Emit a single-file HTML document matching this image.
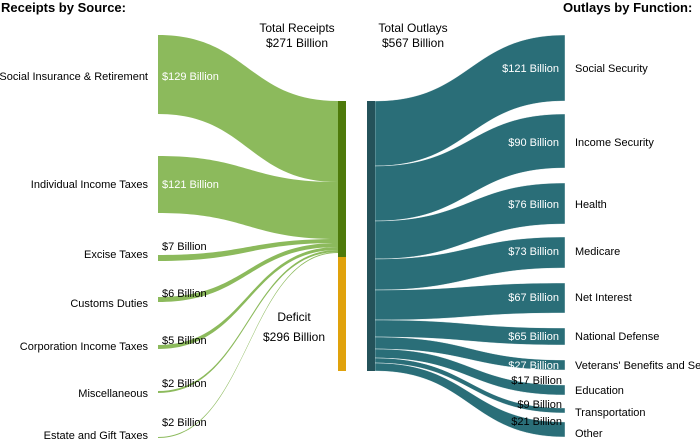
<!DOCTYPE html>
<html><head><meta charset="utf-8"><style>
body{margin:0;background:#fff;}
svg{display:block;font-family:"Liberation Sans",Arial,sans-serif;}
</style></head><body>
<svg width="700" height="444" viewBox="0 0 700 444" xmlns="http://www.w3.org/2000/svg">
<g fill="#8cba5c">
<path d="M158,35 C248,35 248,101 338,101 L338,182 C248,182 248,114 158,114 Z"/>
<path d="M158,156 C248,156 248,182 338,182 L338,239 C248,239 248,213 158,213 Z"/>
<path d="M158,255 C248,255 248,239 338,239 L338,243 C248,243 248,261 158,261 Z"/>
<path d="M158,297 C248,297 248,243 338,243 L338,247 C248,247 248,302 158,302 Z"/>
<path d="M158,345 C248,345 248,247 338,247 L338,250 C248,250 248,349 158,349 Z"/>
<path d="M158,391 C248,391 248,250 338,250 L338,252 C248,252 248,393 158,393 Z"/>
<path d="M158,437 C248,437 248,252 338,252 L338,253 C248,253 248,438 158,438 Z"/>
</g>
<rect x="338" y="101" width="8" height="156" fill="#4e7a0b"/>
<rect x="338" y="257" width="8" height="114" fill="#e0a20c"/>
<g fill="#2a6e78" stroke="#fff" stroke-width="0.4">
<path d="M375,101 C470,101 470,35 565,35 L565,101 C470,101 470,166 375,166 Z"/>
<path d="M375,166 C470,166 470,114 565,114 L565,168 C470,168 470,221 375,221 Z"/>
<path d="M375,221 C470,221 470,183 565,183 L565,224 C470,224 470,259 375,259 Z"/>
<path d="M375,259 C470,259 470,237 565,237 L565,268 C470,268 470,290 375,290 Z"/>
<path d="M375,290 C470,290 470,283 565,283 L565,313 C470,313 470,320 375,320 Z"/>
<path d="M375,320 C470,320 470,328 565,328 L565,345 C470,345 470,337 375,337 Z"/>
<path d="M375,337 C470,337 470,360 565,360 L565,370 C470,370 470,349 375,349 Z"/>
<path d="M375,349 C470,349 470,385 565,385 L565,395 C470,395 470,358 375,358 Z"/>
<path d="M375,358 C470,358 470,408 565,408 L565,413 C470,413 470,363 375,363 Z"/>
<path d="M375,363 C470,363 470,422 565,422 L565,437 C470,437 470,371 375,371 Z"/>
</g>
<rect x="367" y="101" width="8" height="270" fill="#24525a"/>
<g font-size="13" font-weight="bold" fill="#000">
<text x="1" y="12">Receipts by Source:</text>
<text x="563" y="12">Outlays by Function:</text>
</g>
<g font-size="12" fill="#000" text-anchor="middle">
<text x="297" y="32">Total Receipts</text><text x="297" y="47">$271 Billion</text>
<text x="413" y="32">Total Outlays</text><text x="413" y="47">$567 Billion</text>
<text x="294" y="321">Deficit</text><text x="294" y="341">$296 Billion</text>
</g>
<g font-size="11" fill="#000" text-anchor="end">
<text x="148" y="80">Social Insurance &amp; Retirement</text>
<text x="148" y="188">Individual Income Taxes</text>
<text x="148" y="258">Excise Taxes</text>
<text x="148" y="307">Customs Duties</text>
<text x="148" y="350">Corporation Income Taxes</text>
<text x="148" y="397">Miscellaneous</text>
<text x="148" y="439">Estate and Gift Taxes</text>
</g>
<g font-size="11">
<text x="162" y="80" fill="#fff">$129 Billion</text>
<text x="162" y="188" fill="#fff">$121 Billion</text>
<text x="162" y="250" fill="#000">$7 Billion</text>
<text x="162" y="297" fill="#000">$6 Billion</text>
<text x="162" y="344" fill="#000">$5 Billion</text>
<text x="162" y="387" fill="#000">$2 Billion</text>
<text x="162" y="426" fill="#000">$2 Billion</text>
</g>
<g font-size="11" text-anchor="end">
<text x="559" y="72" fill="#fff">$121 Billion</text>
<text x="559" y="146" fill="#fff">$90 Billion</text>
<text x="559" y="208" fill="#fff">$76 Billion</text>
<text x="559" y="255" fill="#fff">$73 Billion</text>
<text x="559" y="301" fill="#fff">$67 Billion</text>
<text x="559" y="340" fill="#fff">$65 Billion</text>
<text x="559" y="369" fill="#fff">$27 Billion</text>
<text x="562" y="384" fill="#000">$17 Billion</text>
<text x="562" y="408" fill="#000">$9 Billion</text>
<text x="562" y="425" fill="#000">$21 Billion</text>
</g>
<g font-size="11" fill="#000">
<text x="575" y="72">Social Security</text>
<text x="575" y="146">Income Security</text>
<text x="575" y="208">Health</text>
<text x="575" y="255">Medicare</text>
<text x="575" y="301">Net Interest</text>
<text x="575" y="340">National Defense</text>
<text x="575" y="369">Veterans' Benefits and Services</text>
<text x="575" y="394">Education</text>
<text x="575" y="416">Transportation</text>
<text x="575" y="437">Other</text>
</g>
</svg>
</body></html>
